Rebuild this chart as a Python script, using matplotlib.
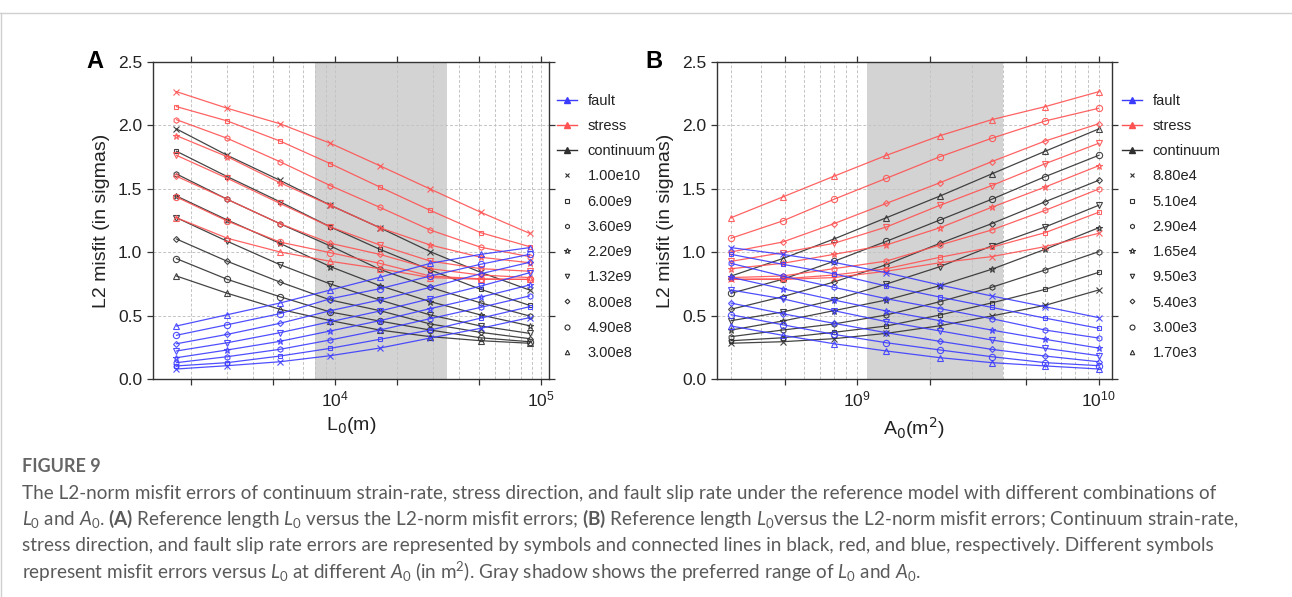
import numpy as np
import matplotlib.pyplot as plt
from matplotlib.lines import Line2D
from matplotlib.ticker import FixedLocator, FormatStrFormatter, LogFormatterSciNotation, NullFormatter

plt.rcParams['font.family'] = ['Liberation Sans', 'DejaVu Sans']
plt.rcParams['mathtext.fontset'] = 'custom'
plt.rcParams['mathtext.rm'] = 'Lato'
plt.rcParams['mathtext.it'] = 'Lato:italic'
plt.rcParams['mathtext.bf'] = 'Lato:bold'

# reference length (m) and reference area (m^2)
L0 = [1.70e3, 3.00e3, 5.40e3, 9.50e3, 1.65e4, 2.90e4, 5.10e4, 8.80e4]
A0 = [1.00e10, 6.00e9, 3.60e9, 2.20e9, 1.32e9, 8.00e8, 4.90e8, 3.00e8]
A0_labels = ["1.00e10", "6.00e9", "3.60e9", "2.20e9", "1.32e9", "8.00e8", "4.90e8", "3.00e8"]
L0_labels = ["8.80e4", "5.10e4", "2.90e4", "1.65e4", "9.50e3", "5.40e3", "3.00e3", "1.70e3"]

# misfit rows: one per A0 (same order as A0), columns: L0
continuum = [
    [1.972, 1.764, 1.567, 1.370, 1.193, 1.004, 0.841, 0.702],
    [1.796, 1.596, 1.398, 1.199, 1.023, 0.860, 0.707, 0.581],
    [1.617, 1.417, 1.225, 1.049, 0.865, 0.723, 0.600, 0.497],
    [1.443, 1.254, 1.070, 0.886, 0.736, 0.610, 0.505, 0.420],
    [1.272, 1.086, 0.902, 0.749, 0.623, 0.505, 0.418, 0.360],
    [1.104, 0.928, 0.765, 0.623, 0.539, 0.434, 0.368, 0.318],
    [0.949, 0.786, 0.649, 0.528, 0.457, 0.386, 0.325, 0.294],
    [0.812, 0.676, 0.550, 0.460, 0.386, 0.334, 0.302, 0.282],
]
stress = [
    [2.266, 2.135, 2.013, 1.859, 1.682, 1.498, 1.315, 1.149],
    [2.148, 2.035, 1.877, 1.698, 1.514, 1.330, 1.154, 1.044],
    [2.045, 1.898, 1.714, 1.525, 1.354, 1.175, 1.039, 0.965],
    [1.919, 1.753, 1.548, 1.370, 1.193, 1.057, 0.960, 0.917],
    [1.764, 1.583, 1.385, 1.199, 1.057, 0.930, 0.870, 0.850],
    [1.599, 1.417, 1.225, 1.070, 0.983, 0.870, 0.820, 0.800],
    [1.435, 1.246, 1.080, 0.996, 0.912, 0.812, 0.790, 0.785],
    [1.272, 1.110, 1.002, 0.928, 0.870, 0.800, 0.786, 0.786],
]
fault = [
    [0.079, 0.105, 0.136, 0.184, 0.244, 0.323, 0.400, 0.484],
    [0.103, 0.129, 0.181, 0.242, 0.313, 0.386, 0.480, 0.570],
    [0.129, 0.176, 0.234, 0.308, 0.386, 0.476, 0.565, 0.655],
    [0.168, 0.229, 0.297, 0.379, 0.460, 0.555, 0.646, 0.741],
    [0.221, 0.286, 0.365, 0.452, 0.536, 0.633, 0.733, 0.838],
    [0.278, 0.352, 0.439, 0.539, 0.623, 0.723, 0.830, 0.920],
    [0.345, 0.428, 0.515, 0.633, 0.712, 0.812, 0.905, 0.983],
    [0.418, 0.507, 0.599, 0.702, 0.802, 0.912, 0.983, 1.036],
]

markers = ['x', 's', 'h', '*', 'v', 'D', 'o', '^']
msizes = [4, 3.5, 4, 5, 4, 3, 4.5, 4]
blue, red, black = '#3c3cff', '#ff5252', '#303030'
series = [(continuum, black), (stress, red), (fault, blue)]

fig = plt.figure(figsize=(12.92, 5.97), dpi=100)
W, H = 1292, 597


def frame(ax, xlim, decades, minor, shade, xlabel):
    ax.set_xscale('log')
    ax.set_xlim(*xlim)
    ax.set_ylim(0, 2.5)
    ax.axvspan(shade[0], shade[1], color='#d3d3d3', zorder=0.2, lw=0)
    lo, hi = int(np.floor(np.log10(xlim[0]))), int(np.ceil(np.log10(xlim[1])))
    for e in range(lo, hi + 1):
        for k in range(1, 10):
            v = k * 10.0 ** e
            if xlim[0] < v < xlim[1]:
                ax.axvline(v, color='#c4c4c4', ls=(0, (3, 2)), lw=0.7, zorder=0.3)
    for v in [0.5, 1.0, 1.5, 2.0]:
        ax.axhline(v, color='#c4c4c4', ls=(0, (3, 2)), lw=0.7, zorder=0.3)
    ax.xaxis.set_major_locator(FixedLocator(decades))
    ax.xaxis.set_major_formatter(LogFormatterSciNotation())
    ax.xaxis.set_minor_locator(FixedLocator(minor))
    ax.xaxis.set_minor_formatter(NullFormatter())
    ax.set_yticks([0, 0.5, 1.0, 1.5, 2.0, 2.5])
    ax.yaxis.set_major_formatter(FormatStrFormatter('%.1f'))
    ax.tick_params(which='both', direction='out', top=True, right=True, length=4,
                   width=0.9, color='#333333', labelsize=12.5, labelcolor='#222222')
    for s in ax.spines.values():
        s.set_color('#333333')
        s.set_linewidth(1.0)
    ax.set_ylabel('L2 misfit (in sigmas)', fontsize=14, labelpad=6, color='#222222')
    ax.set_xlabel(xlabel, fontsize=14, labelpad=4, color='#222222', math_fontfamily='dejavusans')


def legend(ax, labels, x0):
    h = [Line2D([], [], color=blue, marker='^', ms=4, lw=1, mfc=blue),
         Line2D([], [], color=red, marker='^', ms=4, lw=1, mfc=red),
         Line2D([], [], color=black, marker='^', ms=4, lw=1, mfc=black)]
    for m, s in zip(markers, msizes):
        h.append(Line2D([], [], color=black, marker=m, ms=s * 0.8, lw=0, mfc='none', mew=0.8))
    ax.legend(h, ['fault', 'stress', 'continuum'] + labels, loc='upper left',
              bbox_to_anchor=(x0, 0.90), frameon=False, fontsize=10.5, borderpad=0,
              borderaxespad=0, handlelength=1.4, handletextpad=0.7, labelspacing=0.77,
              labelcolor='#222222')


# panel A: misfit versus L0, one curve per A0
axA = fig.add_axes([152.7 / W, 1 - 379 / H, 396.3 / W, 317 / H])
frame(axA, (1303, 1.094e5), [1e4, 1e5], [2e3, 5e3, 2e4, 5e4], (8.0e3, 3.5e4), 'L$_0$(m)')
for data, c in series:
    for i in range(len(A0)):
        axA.plot(L0, data[i], color=c, lw=0.9, marker=markers[i], ms=msizes[i],
                 mfc='none', mew=0.8, alpha=0.9, zorder=2)
legend(axA, A0_labels, 1.02)

# panel B: misfit versus A0, one curve per L0
axB = fig.add_axes([716.7 / W, 1 - 379 / H, 395.3 / W, 317 / H])
frame(axB, (2.616e8, 1.135e10), [1e9, 1e10], [5e8, 2e9, 5e9], (1.10e9, 4.0e9), 'A$_0$(m$^2$)')
for data, c in series:
    for k in range(len(L0)):
        j = len(L0) - 1 - k
        axB.plot(A0, [row[j] for row in data], color=c, lw=0.9, marker=markers[k], ms=msizes[k],
                 mfc='none', mew=0.8, alpha=0.9, zorder=2)
legend(axB, L0_labels, 1.025)

fig.text(86 / W, 1 - 61 / H, 'A', fontsize=17, fontweight='bold', va='center', ha='left')
fig.text(645 / W, 1 - 61 / H, 'B', fontsize=17, fontweight='bold', va='center', ha='left')

# frame lines of the page and caption
fig.add_artist(Line2D([0, 1], [1 - 13 / H, 1 - 13 / H], color='#d0d0d0', lw=1))
fig.add_artist(Line2D([1 / W, 1 / W], [0, 1 - 13 / H], color='#d0d0d0', lw=1))
cap = '#5a5a5a'
fig.text(22 / W, 1 - 467 / H, 'FIGURE 9', fontsize=13, color='#666666', fontfamily='Lato',
         fontweight='bold', va='center')
lines = [
    "The L2-norm misfit errors of continuum strain-rate, stress direction, and fault slip rate under the reference model with different combinations of",
    r"$L_0$ and $A_0$. $\mathbf{(A)}$ Reference length $L_0$ versus the L2-norm misfit errors; $\mathbf{(B)}$ Reference length $L_0$versus the L2-norm misfit errors; Continuum strain-rate,",
    "stress direction, and fault slip rate errors are represented by symbols and connected lines in black, red, and blue, respectively. Different symbols",
    r"represent misfit errors versus $L_0$ at different $A_0$ (in m$^2$). Gray shadow shows the preferred range of $L_0$ and $A_0$.",
]
for n, t in enumerate(lines):
    fig.text(22 / W, 1 - (493 + 26.2 * n) / H, t, fontsize=13.6, color=cap, fontfamily='Lato', va='center')

fig.savefig('out.png', dpi=100)
